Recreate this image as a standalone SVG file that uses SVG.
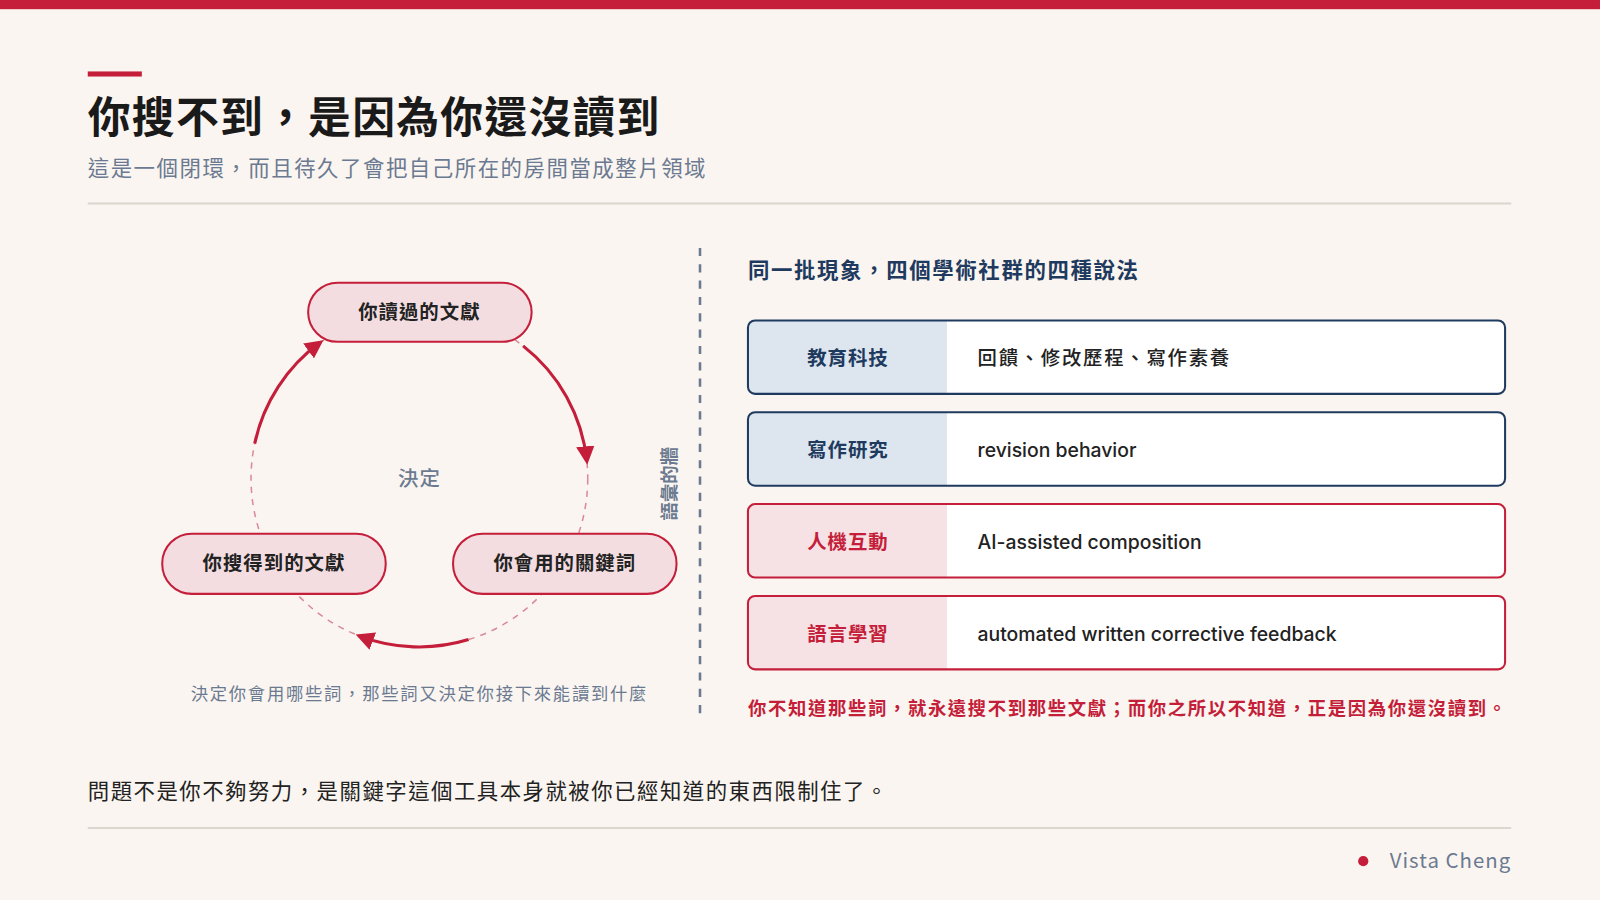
<svg xmlns="http://www.w3.org/2000/svg" width="1600" height="900" viewBox="0 0 1600 900">
<defs>
<style>
text{font-family:"Noto Sans CJK TC","Noto Sans",sans-serif}
.pill{fill:#f3dde1;stroke:#c41e3a;stroke-width:2}
.pt{font-size:19px;font-weight:700;fill:#222;text-anchor:middle;letter-spacing:1px}
.arc{fill:none;stroke:#c41e3a;stroke-width:3}
.bl{fill:#dde5ee}.rl{fill:#f6e1e4}
.bo{fill:none;stroke:#1e3a5f;stroke-width:2}.ro{fill:none;stroke:#c41e3a;stroke-width:2}
.lb{font-size:19px;font-weight:700;text-anchor:middle;letter-spacing:1px}
.ct{font-size:19px;fill:#222;font-family:"Inter","Noto Sans CJK TC",sans-serif;font-weight:500}
</style>
<marker id="ah" viewBox="0 0 10 10" refX="8" refY="5" markerWidth="6" markerHeight="6" orient="auto"><path d="M0,0 L10,5 L0,10 z" fill="#c41e3a"/></marker>
</defs>
<rect width="1600" height="900" fill="#faf5f0"/>
<g transform="scale(1.0204)">
<rect x="0" y="0" width="1568" height="9" fill="#c41e3a"/>
<rect x="86" y="70" width="53" height="5" fill="#c41e3a"/>
<text x="86" y="130" font-size="42" font-weight="700" fill="#1a1a1a" letter-spacing="1.2">你搜不到，是因為你還沒讀到</text>
<text x="86" y="172" font-size="21" fill="#6b7a90" letter-spacing="1.5">這是一個閉環，而且待久了會把自己所在的房間當成整片領域</text>
<line x1="86" y1="199.5" x2="1481" y2="199.5" stroke="#ddd6ce" stroke-width="2"/>
<g id="connectors">
<circle cx="411" cy="469" r="165" fill="none" stroke="#d98a98" stroke-width="1.5" stroke-dasharray="6 6"/>
<path class="arc" d="M512.6,339 A165,165 0 0 1 575.1,451.8" marker-end="url(#ah)"/>
<path class="arc" d="M459.2,626.8 A165,165 0 0 1 351.9,623.1" marker-end="url(#ah)"/>
<path class="arc" d="M249.6,434.7 A165,165 0 0 1 314,335.5" marker-end="url(#ah)"/>
</g>
<text x="411" y="476" font-size="20" fill="#6b7a90" text-anchor="middle" font-weight="500" letter-spacing="1">決定</text>
<g id="n1"><rect class="pill" x="302" y="277" width="219" height="58" rx="29"/><text class="pt" x="411" y="313">你讀過的文獻</text></g>
<g id="n2"><rect class="pill" x="159" y="523" width="219" height="59" rx="29"/><text class="pt" x="268.5" y="559">你搜得到的文獻</text></g>
<g id="n3"><rect class="pill" x="444" y="523" width="219" height="59" rx="29"/><text class="pt" x="553.5" y="559">你會用的關鍵詞</text></g>
<text x="411" y="686" font-size="17" fill="#6b7a90" text-anchor="middle" letter-spacing="1.7">決定你會用哪些詞，那些詞又決定你接下來能讀到什麼</text>
<text transform="translate(662,474) rotate(-90)" font-size="18" font-weight="700" fill="#6b7a90" text-anchor="middle">語彙的牆</text>
<line x1="686" y1="243" x2="686" y2="705" stroke="#6b7a90" stroke-width="2.5" stroke-dasharray="8 8"/>
<text x="733" y="272" font-size="21" font-weight="700" fill="#1e3a5f" letter-spacing="1.6">同一批現象，四個學術社群的四種說法</text>
<g id="r1"><rect x="733" y="314" width="742" height="72" rx="7" fill="#fff"/><path class="bl" d="M740,314 H928 V386 H740 A7,7 0 0 1 733,379 V321 A7,7 0 0 1 740,314z"/><rect class="bo" x="733" y="314" width="742" height="72" rx="7"/><text class="lb" x="831" y="358" fill="#1e3a5f">教育科技</text><text class="ct" x="958" y="358" letter-spacing="1.7">回饋、修改歷程、寫作素養</text></g>
<g id="r2"><rect x="733" y="404" width="742" height="72" rx="7" fill="#fff"/><path class="bl" d="M740,404 H928 V476 H740 A7,7 0 0 1 733,469 V411 A7,7 0 0 1 740,404z"/><rect class="bo" x="733" y="404" width="742" height="72" rx="7"/><text class="lb" x="831" y="448" fill="#1e3a5f">寫作研究</text><text class="ct" x="958" y="448">revision behavior</text></g>
<g id="r3"><rect x="733" y="494" width="742" height="72" rx="7" fill="#fff"/><path class="rl" d="M740,494 H928 V566 H740 A7,7 0 0 1 733,559 V501 A7,7 0 0 1 740,494z"/><rect class="ro" x="733" y="494" width="742" height="72" rx="7"/><text class="lb" x="831" y="538" fill="#c41e3a">人機互動</text><text class="ct" x="958" y="538">AI-assisted composition</text></g>
<g id="r4"><rect x="733" y="584" width="742" height="72" rx="7" fill="#fff"/><path class="rl" d="M740,584 H928 V656 H740 A7,7 0 0 1 733,649 V591 A7,7 0 0 1 740,584z"/><rect class="ro" x="733" y="584" width="742" height="72" rx="7"/><text class="lb" x="831" y="628" fill="#c41e3a">語言學習</text><text class="ct" x="958" y="628">automated written corrective feedback</text></g>
<text x="733" y="701" font-size="18" font-weight="700" fill="#c41e3a" letter-spacing="1.6">你不知道那些詞，就永遠搜不到那些文獻；而你之所以不知道，正是因為你還沒讀到。</text>
<text x="86" y="783" font-size="21" fill="#222" letter-spacing="1.45">問題不是你不夠努力，是關鍵字這個工具本身就被你已經知道的東西限制住了。</text>
<line x1="86" y1="811.5" x2="1481" y2="811.5" stroke="#ddd6ce" stroke-width="2"/>
<circle cx="1336" cy="844" r="5" fill="#c41e3a"/>
<text x="1481" y="851" font-size="20" fill="#6b7a90" text-anchor="end" letter-spacing="1" font-family="Inter,sans-serif">Vista Cheng</text>
</g>
</svg>
